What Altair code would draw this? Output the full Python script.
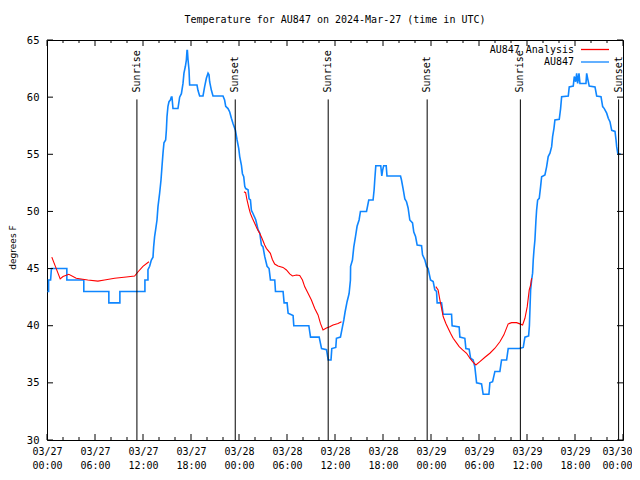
import altair as alt
import pandas as pd

START = pd.Timestamp("2024-03-27 00:00", tz="UTC")

TITLE = "Temperature for AU847 on 2024-Mar-27 (time in UTC)"
Y_TITLE = "degrees F"
SERIES_NAMES = ["AU847 Analysis", "AU847"]

# Observed AU847 (hours since 03/27 00:00 UTC, deg F)
blue_hours = [0.05, 0.2, 0.2, 0.45, 0.55, 2.48, 2.48, 4.6, 4.6, 7.73, 7.73, 9.11, 9.11, 12.24, 12.24, 12.62, 12.62,
              12.83, 13.04, 13.25, 13.33, 13.45, 13.58, 13.75, 13.87, 14.08, 14.25, 14.37, 14.5, 14.62, 14.83, 14.92,
              15.0, 15.12, 15.25, 15.42, 15.54, 15.62, 15.75, 16.37, 16.5, 16.58, 16.8, 17.0, 17.12, 17.3, 17.42,
              17.5, 17.55, 17.63, 17.75, 17.83, 18.75, 18.87, 19.08, 19.5, 19.7, 19.92, 20.13, 20.25, 20.33, 20.55,
              20.75, 22.0, 22.2, 22.34, 22.63, 22.84, 23.05, 23.25, 23.55, 23.76, 23.97, 24.09, 24.3, 24.43, 24.59,
              24.72, 24.84, 25.13, 25.26, 25.43, 25.55, 25.76, 26.1, 26.38, 26.6, 26.8, 27.0, 27.22, 27.51, 27.76,
              27.93, 28.47, 28.56, 29.51, 29.64, 30.01, 30.14, 30.76, 30.85, 32.73, 32.94, 34.02, 34.32, 34.94,
              35.15, 35.5, 35.6, 36.1, 36.18, 36.68, 36.93, 37.1, 37.26, 37.51, 37.76, 37.93, 37.95, 38.18, 38.35,
              38.56, 38.76, 39.01, 39.18, 39.94, 40.22, 40.76, 40.89, 40.97, 41.1, 41.72, 41.85, 41.95, 42.08, 42.4,
              42.5, 44.19, 44.31, 44.51, 44.73, 44.94, 45.14, 45.35, 45.69, 45.85, 46.07, 46.27, 46.82, 46.94,
              47.23, 47.44, 47.64, 47.94, 48.27, 48.48, 48.69, 48.77, 49.32, 49.52, 50.57, 50.64, 51.52, 51.61,
              52.23, 52.36, 52.77, 52.95, 53.27, 53.48, 53.7, 54.32, 54.52, 55.24, 55.36, 55.7, 55.99, 56.61,
              56.82, 57.45, 57.65, 59.03, 59.53, 59.74, 60.2, 60.3, 60.45, 60.58, 60.7, 60.78, 60.87, 60.99, 61.12,
              61.2, 61.33, 61.53, 61.7, 61.83, 62.24, 62.45, 62.65, 62.87, 63.08, 63.2, 63.37, 63.49, 64.03, 64.2,
              64.33, 65.16, 65.28, 65.78, 65.91, 66.08, 66.21, 66.33, 66.5, 66.62, 67.37, 67.46, 67.58, 67.78,
              68.5, 68.71, 69.25, 69.46, 69.66, 69.96, 70.16, 70.37, 70.59, 71.0, 71.13, 71.21, 71.34, 71.71]
blue_temps = [43.0, 43.0, 44.0, 44.0, 45.0, 45.0, 44.0, 44.0, 43.0, 43.0, 42.0, 42.0, 43.0, 43.0, 44.0, 44.0, 44.9,
              45.2, 45.75, 46.0, 46.9, 47.8, 48.4, 49.25, 50.4, 51.6, 52.75, 53.9, 55.1, 56.0, 56.25, 57.1,
              58.3, 59.2, 59.6, 59.75, 60.0, 60.0, 59.0, 59.0, 59.6, 60.0, 60.3, 61.2, 62.1, 62.7, 63.25,
              64.07, 64.07, 63.25, 62.4, 61.06, 61.06, 60.6, 60.1, 60.1, 60.9, 61.65, 62.1, 61.95, 61.35, 60.6,
              60.1, 60.1, 59.75, 59.2, 59.0, 58.7, 58.15, 57.7, 57.1, 56.25, 55.5, 54.8, 54.06, 53.3, 53.04,
              52.2, 52.0, 51.9, 51.1, 51.0, 50.1, 49.8, 49.25, 48.4, 48.1, 47.06, 46.9, 46.04, 45.2, 45.0,
              44.0, 44.0, 43.0, 43.0, 42.0, 42.0, 41.1, 40.9, 40.0, 40.0, 39.0, 39.0, 38.0, 37.9,
              37.0, 37.0, 38.0, 38.1, 38.9, 39.0, 39.9, 40.5, 41.2, 42.1, 42.8, 44.0, 45.2, 45.75, 46.9,
              47.8, 48.7, 49.25, 50.0, 50.0, 51.0, 51.0, 51.9, 52.75, 54.0, 54.0, 53.1, 53.6, 54.0, 54.0,
              53.1, 53.1, 52.75, 52.0, 51.1, 50.85, 50.3, 49.25, 49.0, 48.2, 47.8, 47.06, 47.0, 46.2,
              45.76, 45.2, 45.0, 44.0, 43.86, 43.13, 43.0, 42.0, 42.0, 41.0, 41.0, 40.0, 39.9, 39.0,
              38.9, 38.0, 37.95, 37.15, 37.0, 36.4, 35.0, 34.9, 34.0, 34.0, 35.0, 35.1, 36.0, 36.0,
              37.0, 37.0, 38.0, 38.0, 38.1, 39.0, 39.1, 40.0, 43.1, 44.0, 44.6, 45.75, 46.6, 47.5, 49.25,
              50.1, 51.0, 51.15, 52.17, 53.04, 53.2, 53.9, 54.8, 55.1, 55.67, 56.54, 57.27, 58.0, 58.06, 59.0,
              60.04, 60.1, 60.9, 60.97, 61.8, 61.35, 62.08, 61.2, 62.08, 61.2, 61.2, 62.08, 61.65, 60.97,
              60.9, 60.1, 60.04, 59.17, 59.0, 58.6, 58.15, 57.85, 57.1, 57.0, 56.25, 55.67, 55.1, 55.0]

# AU847 Analysis, three separate runs
red1_hours = [0.60, 1.65, 2.0, 2.73, 3.65, 5.10, 6.36, 7.19, 8.45, 9.91, 10.95, 11.36, 11.99, 12.74]
red1_temps = [46.0, 44.1, 44.3, 44.5, 44.15, 44.0, 43.9, 44.0, 44.15, 44.26, 44.35, 44.7, 45.2, 45.6]
red2_hours = [24.62, 24.83, 25.0, 25.25, 25.42, 25.67, 25.96, 26.25, 26.59, 26.87, 27.21, 27.42, 27.92, 28.17,
              28.46, 28.87, 29.5, 29.93, 30.34, 30.68, 31.18, 31.59, 31.93, 32.22, 32.63, 33.05, 33.47, 33.88,
              34.18, 34.5, 34.93, 35.34, 35.76, 36.38, 36.81]
red2_temps = [51.73, 51.64, 51.0, 50.27, 49.83, 49.4, 48.96, 48.5, 48.08, 47.65, 47.06, 46.77, 46.33, 45.8,
              45.4, 45.23, 45.1, 44.88, 44.53, 44.35, 44.44, 44.4, 44.0, 43.4, 42.83, 42.25, 41.5, 40.94,
              40.2, 39.63, 39.8, 39.9, 40.06, 40.2, 40.35]
red3_hours = [48.6, 48.89, 49.11, 49.32, 49.52, 49.86, 50.14, 50.44, 50.77, 51.19, 51.52, 51.95, 52.45, 52.86,
              53.2, 53.61, 54.11, 54.74, 55.36, 55.99, 56.61, 57.11, 57.65, 58.08, 58.7, 59.11, 59.45, 59.74,
              60.03, 60.28, 60.45, 60.58]
red3_temps = [43.42, 43.13, 42.26, 41.53, 40.8, 40.2, 39.78, 39.34, 38.9, 38.5, 38.17, 37.88, 37.59, 37.15,
              36.86, 36.57, 36.86, 37.24, 37.59, 38.03, 38.6, 39.2, 40.16, 40.27, 40.27, 40.16, 40.07, 40.65,
              41.67, 43.13, 43.56, 44.15]

event_hours = [11.24, 23.53, 35.15, 47.52, 59.17, 71.45]
event_labels = ["Sunrise", "Sunset", "Sunrise", "Sunset", "Sunrise", "Sunset"]

major_tick_hours = list(range(0, 73, 6))
minor_tick_hours = [h for h in range(0, 73, 2) if h % 6]
y_ticks = [30, 35, 40, 45, 50, 55, 60, 65]

RED = "#ff0000"
BLUE = "#0f86ff"
MONO = "DejaVu Sans Mono"
W, H = 576, 400


def to_time(hours):
    return START + pd.to_timedelta(pd.Series(hours, dtype=float), unit="h")


def ms(h):
    return int((START + pd.Timedelta(hours=h)).timestamp() * 1000)


blue_df = pd.DataFrame({"time": to_time(blue_hours), "temp": blue_temps, "idx": range(len(blue_hours))})
red_df = pd.concat([
    pd.DataFrame({"time": to_time(h), "temp": t, "seg": s})
    for h, t, s in [(red1_hours, red1_temps, 1), (red2_hours, red2_temps, 2), (red3_hours, red3_temps, 3)]
], ignore_index=True)
event_df = pd.DataFrame({"time": to_time(event_hours), "label": event_labels})
major_df = pd.DataFrame({"time": to_time(major_tick_hours)})
minor_df = pd.DataFrame({"time": to_time(minor_tick_hours)})
ytick_df = pd.DataFrame({"temp": y_ticks})

xscale = alt.Scale(type="utc", domain=[ms(0), ms(72)])
yscale = alt.Scale(domain=[30, 65], nice=False, zero=False)

last_tick = ms(major_tick_hours[-1])
x_axis = alt.Axis(
    values=[ms(h) for h in major_tick_hours],
    labelExpr="[utcFormat(datum.value, '%m/%d'), utcFormat(datum.value, '%H:%M')]",
    ticks=False, tickSize=0, domain=False, grid=False,
    labelFont=MONO, labelFontSize=10, labelColor="black", labelPadding=6,
    labelLineHeight=14, labelOverlap=False, labelFlush=False, labelBound=False,
    labelOffset={"condition": {"test": f"time(datum.value) >= {last_tick - 60000}", "value": -6}, "value": 0},
)
y_axis = alt.Axis(
    values=y_ticks, ticks=False, tickSize=0, domain=False, grid=False,
    labelFont=MONO, labelFontSize=10.5, labelColor="black", labelPadding=8,
    titleFont="DejaVu Sans", titleFontSize=9, titleFontWeight="normal",
    titleColor="black", titleX=-34.5, titleY=207, titleAngle=270, titleAlign="center",
    titleBaseline="middle",
)


def X():
    return alt.X("time:T", scale=xscale, axis=x_axis, title=None)


def Y(field="temp:Q"):
    return alt.Y(field, scale=yscale, axis=y_axis, title=Y_TITLE)


blue = alt.Chart(blue_df).mark_line(color=BLUE, strokeWidth=1.6).encode(
    x=X(), y=Y(), order="idx:Q",
)

red = alt.Chart(red_df).mark_line(color=RED, strokeWidth=1.1).encode(
    x=X(), y=Y(), detail="seg:N",
)

events = alt.Chart(event_df).mark_rule(color="black", strokeWidth=1).encode(
    x=X(),
    y=alt.YDatum(30, scale=yscale, axis=y_axis, title=Y_TITLE),
    y2=alt.Y2Datum(59.8),
)

event_text = alt.Chart(event_df).mark_text(
    angle=270, align="left", baseline="middle", dx=7, font=MONO, fontSize=10, color="black"
).encode(
    x=X(),
    y=alt.YDatum(59.8, scale=yscale, axis=y_axis, title=Y_TITLE),
    text="label:N",
)


def xticks(df, length, at_bottom):
    if at_bottom:
        ys = dict(y=alt.value(H), y2=alt.value(H - length))
    else:
        ys = dict(y=alt.value(0), y2=alt.value(length))
    return alt.Chart(df).mark_rule(color="black", strokeWidth=1).encode(x=X(), **ys)


def yticks(left):
    xs = dict(x=alt.value(0), x2=alt.value(6)) if left else dict(x=alt.value(W), x2=alt.value(W - 6))
    return alt.Chart(ytick_df).mark_rule(color="black", strokeWidth=1).encode(y=Y(), **xs)


legend_layers = []
for name, color, ypix in [(SERIES_NAMES[0], RED, 9.5), (SERIES_NAMES[1], BLUE, 22)]:
    ldf = pd.DataFrame({"label": [name]})
    legend_layers.append(
        alt.Chart(ldf).mark_text(align="right", baseline="middle", font=MONO, fontSize=10, color="black")
        .encode(x=alt.value(527), y=alt.value(ypix), text="label:N")
    )
    legend_layers.append(
        alt.Chart(ldf).mark_rule(color=color, strokeWidth=1.3)
        .encode(x=alt.value(534), x2=alt.value(562), y=alt.value(ypix))
    )

chart = alt.layer(
    blue, red, events, event_text,
    xticks(major_df, 6, True), xticks(major_df, 6, False),
    xticks(minor_df, 3, True), xticks(minor_df, 3, False),
    yticks(True), yticks(False),
    *legend_layers,
).properties(
    width=W, height=H,
    title=alt.TitleParams(TITLE, font=MONO, fontSize=10, fontWeight="normal", anchor="middle",
                          offset=10, color="black"),
    padding={"left": 39, "top": 32, "right": 9, "bottom": 32},
    autosize=alt.AutoSizeParams(type="none"),
).configure_view(stroke="black", strokeWidth=1)

chart.save("out.html", embed_options={"renderer": "svg", "actions": False})
